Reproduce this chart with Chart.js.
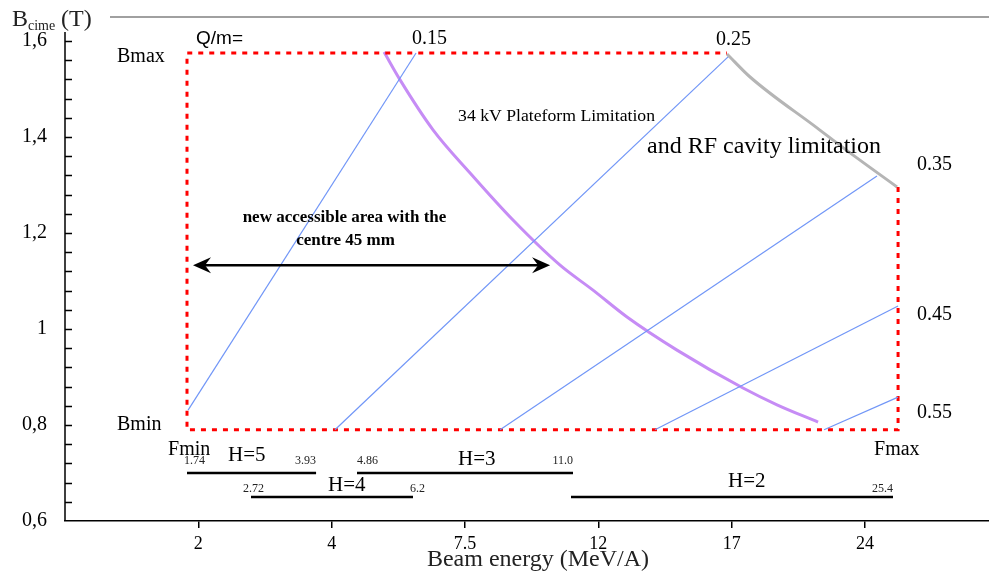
<!DOCTYPE html>
<html>
<head>
  <title>Bcime vs beam energy</title>
  <script src="https://cdn.jsdelivr.net/npm/chart.js"></script>
  <style>
    body {
      margin: 0;
      background-color: #ffffff;
    }
    #chart {
      display: block;
    }
  </style>
</head>
<body>
  <canvas id="chart" width="989" height="573"></canvas>

  <script>
    // x axis: tick slots 1..6 carry the energy labels (MeV/A)
    const xTickPos = [1, 2, 3, 4, 5, 6];
    const xTickLabels = ['2', '4', '7.5', '12', '17', '24'];
    const yTicks = [0.6, 0.8, 1, 1.2, 1.4, 1.6];
    const yTickLabels = ['0,6', '0,8', '1', '1,2', '1,4', '1,6'];

    // Q/m lines (start / end)
    const qmNames = ['0.15', '0.25', '0.35', '0.45', '0.55'];
    const qmX = [[0.923, 2.633], [2.025, 4.973], [3.263, 6.09], [4.425, 6.248], [5.693, 6.248]];
    const qmB = [[0.831, 1.575], [0.79, 1.567], [0.79, 1.319], [0.79, 1.048], [0.79, 0.858]];

    // 34 kV platform limitation
    const platformX = [2.393, 2.513, 2.76, 3.038, 3.36, 3.713, 3.96, 4.215, 4.59, 5.085, 5.34, 5.648];
    const platformB = [1.577, 1.519, 1.415, 1.325, 1.227, 1.133, 1.081, 1.025, 0.956, 0.877, 0.842, 0.806];

    // RF cavity limitation
    const rfX = [4.965, 5.138, 5.64, 5.888, 6.24];
    const rfB = [1.573, 1.525, 1.419, 1.367, 1.296];

    // Fmin/Fmax, Bmin/Bmax frame (open where the RF limit cuts it)
    const boxX = [6.248, 6.248, 0.915, 0.915, 4.965];
    const boxB = [1.296, 0.79, 0.79, 1.575, 1.575];

    // harmonic ranges
    const hNames = ['H=5', 'H=4', 'H=3', 'H=2'];
    const hStart = [0.915, 1.395, 2.19, 3.795];
    const hEnd = [1.883, 2.61, 3.81, 6.21];
    const hLevel = [0.7, 0.65, 0.7, 0.65];

    // accessible area arrow
    const arrowX = [0.96, 3.638];
    const arrowB = 1.133;

    const serif = "'Liberation Serif', 'Times New Roman', serif";

    function pts(xs, ys) {
      return xs.map((x, i) => ({ x: x, y: ys[i] }));
    }

    const datasets = [];
    hNames.forEach((n, i) => {
      datasets.push({
        data: pts([hStart[i], hEnd[i]], [hLevel[i], hLevel[i]]),
        borderColor: '#000000', borderWidth: 2.5
      });
    });
    qmNames.forEach((n, i) => {
      datasets.push({
        data: pts(qmX[i], qmB[i]),
        borderColor: '#7196f7', borderWidth: 1.2
      });
    });
    datasets.push({
      data: pts(boxX, boxB),
      borderColor: '#ff0000', borderWidth: 3, borderDash: [5, 6]
    });
    datasets.push({
      data: pts(platformX, platformB),
      borderColor: '#c68cf5', borderWidth: 3, cubicInterpolationMode: 'monotone'
    });
    datasets.push({
      data: pts(rfX, rfB),
      borderColor: '#b5b5b5', borderWidth: 3, cubicInterpolationMode: 'monotone'
    });

    // text placed in data coordinates
    const notes = [
      { t: 'Q/m=', x: 0.983, y: 1.604, f: "19px 'Liberation Sans', Arial, sans-serif" },
      { t: '0.15', x: 2.603, y: 1.604, f: '20px ' + serif },
      { t: '0.25', x: 4.883, y: 1.602, f: '20px ' + serif },
      { t: '0.35', x: 6.39, y: 1.342, f: '20px ' + serif },
      { t: '0.45', x: 6.39, y: 1.029, f: '20px ' + serif },
      { t: '0.55', x: 6.39, y: 0.825, f: '20px ' + serif },
      { t: 'Bmax', x: 0.39, y: 1.567, f: '20px ' + serif },
      { t: 'Bmin', x: 0.39, y: 0.8, f: '20px ' + serif },
      { t: 'Fmin', x: 0.773, y: 0.748, f: '20px ' + serif },
      { t: 'Fmax', x: 6.068, y: 0.748, f: '20px ' + serif },
      { t: '34 kV Plateform Limitation', x: 2.948, y: 1.442, f: '17.7px ' + serif },
      { t: 'and RF cavity limitation', x: 4.365, y: 1.379, f: '24px ' + serif },
      { t: 'new accessible area with the', x: 2.096, y: 1.233, f: 'bold 17px ' + serif, a: 'center' },
      { t: 'centre 45 mm', x: 2.104, y: 1.185, f: 'bold 17px ' + serif, a: 'center' },
      { t: 'H=5', x: 1.223, y: 0.7375, f: '21px ' + serif },
      { t: 'H=4', x: 1.973, y: 0.673, f: '21px ' + serif },
      { t: 'H=3', x: 2.948, y: 0.729, f: '21px ' + serif },
      { t: 'H=2', x: 4.973, y: 0.683, f: '21px ' + serif },
      { t: '1.74', x: 0.893, y: 0.725, f: '12px ' + serif, c: '#222' },
      { t: '3.93', x: 1.883, y: 0.725, f: '12px ' + serif, c: '#222', a: 'right' },
      { t: '2.72', x: 1.335, y: 0.667, f: '12px ' + serif, c: '#222' },
      { t: '6.2', x: 2.588, y: 0.667, f: '12px ' + serif, c: '#222' },
      { t: '4.86', x: 2.19, y: 0.725, f: '12px ' + serif, c: '#222' },
      { t: '11.0', x: 3.81, y: 0.725, f: '12px ' + serif, c: '#222', a: 'right' },
      { t: '25.4', x: 6.21, y: 0.667, f: '12px ' + serif, c: '#222', a: 'right' }
    ];

    const decor = {
      id: 'decor',
      afterDatasetsDraw(chart) {
        const ctx = chart.ctx;
        const xs = chart.scales.x, ys = chart.scales.y;
        const area = chart.chartArea;
        ctx.save();

        // frame: grey top line, y axis with inward ticks
        ctx.strokeStyle = '#808080';
        ctx.lineWidth = 1.5;
        ctx.beginPath();
        ctx.moveTo(110, area.top);
        ctx.lineTo(area.right, area.top);
        ctx.stroke();

        ctx.strokeStyle = '#000000';
        ctx.beginPath();
        ctx.moveTo(area.left, 32);
        ctx.lineTo(area.left, area.bottom);
        for (let v = 0.64; v < 1.62; v += 0.04) {
          const y = Math.round(ys.getPixelForValue(v)) + 0.5;
          ctx.moveTo(area.left, y);
          ctx.lineTo(area.left + 7, y);
        }
        ctx.stroke();

        // double arrow
        const ay = ys.getPixelForValue(arrowB);
        const a0 = xs.getPixelForValue(arrowX[0]);
        const a1 = xs.getPixelForValue(arrowX[1]);
        ctx.lineWidth = 2.5;
        ctx.beginPath();
        ctx.moveTo(a0 + 8, ay);
        ctx.lineTo(a1 - 8, ay);
        ctx.stroke();
        ctx.fillStyle = '#000000';
        [[a0, 1], [a1, -1]].forEach(([tip, d]) => {
          ctx.beginPath();
          ctx.moveTo(tip, ay);
          ctx.lineTo(tip + d * 18, ay - 8);
          ctx.lineTo(tip + d * 12, ay);
          ctx.lineTo(tip + d * 18, ay + 8);
          ctx.closePath();
          ctx.fill();
        });

        // annotations
        ctx.textBaseline = 'middle';
        notes.forEach(n => {
          ctx.font = n.f;
          ctx.fillStyle = n.c || '#000000';
          ctx.textAlign = n.a || 'left';
          ctx.fillText(n.t, xs.getPixelForValue(n.x), ys.getPixelForValue(n.y));
        });

        // axis titles
        ctx.textBaseline = 'alphabetic';
        ctx.textAlign = 'left';
        ctx.font = '24px ' + serif;
        ctx.fillText('B', 12, 26);
        ctx.font = '14px ' + serif;
        ctx.fillText('cime', 28, 30);
        ctx.font = '24px ' + serif;
        ctx.fillText('(T)', 61, 26);
        ctx.textAlign = 'center';
        ctx.fillText('Beam energy (MeV/A)', 538, 566);
        ctx.restore();
      }
    };

    new Chart(document.getElementById('chart'), {
      type: 'scatter',
      data: { datasets: datasets },
      options: {
        responsive: false,
        animation: false,
        showLine: true,
        layout: { padding: { top: 17, right: 0, bottom: 0, left: 0 } },
        elements: { point: { radius: 0 }, line: { fill: false, borderCapStyle: 'butt' } },
        plugins: { legend: { display: false }, tooltip: { enabled: false } },
        scales: {
          x: {
            type: 'linear', min: 0, max: 6.93,
            afterFit: s => { s.height = 52; s.paddingLeft = 0; s.paddingRight = 0; },
            afterBuildTicks: s => { s.ticks = xTickPos.map(v => ({ value: v })); },
            grid: { drawOnChartArea: false, drawTicks: true, tickLength: 7, color: '#000000', lineWidth: 1.5 },
            border: { display: true, color: '#000000', width: 1.5 },
            ticks: {
              autoSkip: false, maxRotation: 0, padding: 5, color: '#000000',
              font: { family: serif, size: 18 },
              callback: (v, i) => xTickLabels[i]
            }
          },
          y: {
            type: 'linear', min: 0.6, max: 1.65,
            afterFit: s => { s.width = 65; s.paddingTop = 0; s.paddingBottom = 0; },
            afterBuildTicks: s => { s.ticks = yTicks.map(v => ({ value: v })); },
            grid: { display: false, tickLength: 0 },
            border: { display: false },
            ticks: {
              padding: 18, color: '#000000',
              font: { family: serif, size: 20 },
              callback: (v, i) => yTickLabels[i]
            }
          }
        }
      },
      plugins: [decor]
    });
  </script>
</body>
</html>
